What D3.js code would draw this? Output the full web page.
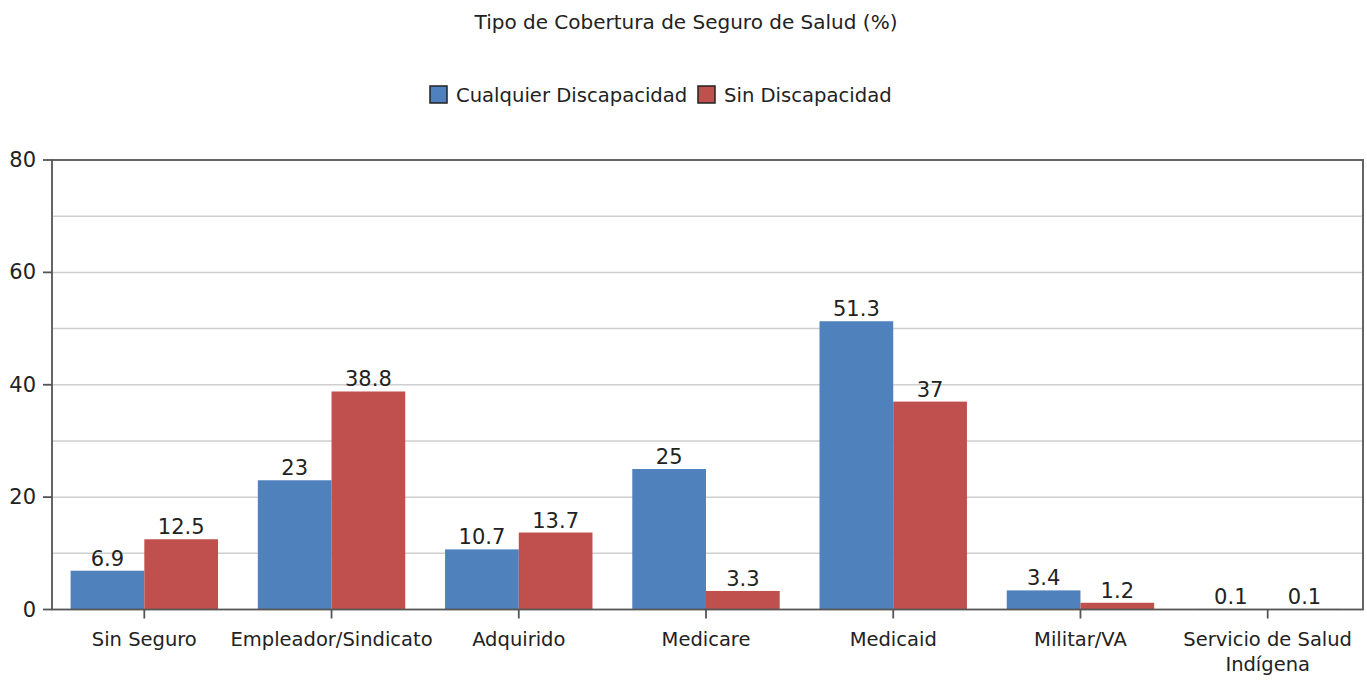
<!DOCTYPE html>
<html><head><meta charset="utf-8">
<script src="https://cdn.jsdelivr.net/npm/d3@7"></script>
<style>
html,body{margin:0;padding:0;background:#fff;}
svg text{font-family:"DejaVu Sans",sans-serif;fill:#222;}
</style></head>
<body>
<svg id="c" width="1367" height="683"></svg>
<script>
const categories = ["Sin Seguro","Empleador/Sindicato","Adquirido","Medicare","Medicaid","Militar/VA","Servicio de Salud\nIndígena"];
const seriesNames = ["Cualquier Discapacidad","Sin Discapacidad"];
const anyDisability = [6.9,23,10.7,25,51.3,3.4,0.1];
const noDisability = [12.5,38.8,13.7,3.3,37,1.2,0.1];
const yTicks = [0,20,40,60,80];
const gridTicks = [10,20,30,40,50,60,70];
const colors = ["#4f81bd","#c0504d"];
const title = "Tipo de Cobertura de Seguro de Salud (%)";

const svg = d3.select("#c");
const L = 52, R = 1363, T = 160, B = 609.5;
const x0 = d3.scaleBand().domain(categories).range([50.7, 1361.3]).paddingInner(0).paddingOuter(0);
const x1 = d3.scaleBand().domain(seriesNames).range([0, x0.bandwidth()]).paddingInner(0).paddingOuter(0.27);
const y = d3.scaleLinear().domain([0,80]).range([B, T]);

// gridlines
svg.append("g").selectAll("line").data(gridTicks).join("line")
  .attr("x1", L).attr("x2", R).attr("y1", d=>y(d)).attr("y2", d=>y(d))
  .attr("stroke","#cfcfcf").attr("stroke-width",1.5);

// bars
const data = categories.map((c,i)=>({cat:c, vals:[anyDisability[i], noDisability[i]]}));
const g = svg.append("g").selectAll("g").data(data).join("g")
  .attr("transform", d=>`translate(${x0(d.cat)},0)`);
g.selectAll("rect").data(d=>d.vals.map((v,j)=>({v, s:seriesNames[j], j}))).join("rect")
  .attr("x", d=>x1(d.s)).attr("width", x1.bandwidth())
  .attr("y", d=>y(d.v)).attr("height", d=>B - y(d.v))
  .attr("fill", d=>colors[d.j]);
g.selectAll("text").data(d=>d.vals.map((v,j)=>({v, s:seriesNames[j], j}))).join("text")
  .attr("x", d=>x1(d.s)+x1.bandwidth()/2).attr("y", d=>y(d.v)-5)
  .attr("text-anchor","middle").attr("font-size","21px").attr("fill","#111")
  .text(d=>d.v);

// frame
svg.append("rect").attr("x",L).attr("y",T).attr("width",R-L).attr("height",B-T)
  .attr("fill","none").attr("stroke","#555").attr("stroke-width",1.8);

// y axis ticks + labels
const ya = svg.append("g");
ya.selectAll("line").data(yTicks).join("line")
  .attr("x1",43).attr("x2",L).attr("y1",d=>y(d)).attr("y2",d=>y(d))
  .attr("stroke","#555").attr("stroke-width",1.8);
ya.selectAll("text").data(yTicks).join("text")
  .attr("x",36).attr("y",d=>y(d)+7).attr("text-anchor","end").attr("font-size","21px").attr("fill","#333")
  .text(d=>d);

// x axis ticks + labels
const xa = svg.append("g");
xa.selectAll("line").data(categories).join("line")
  .attr("x1",d=>x0(d)+x0.bandwidth()/2).attr("x2",d=>x0(d)+x0.bandwidth()/2)
  .attr("y1",B).attr("y2",B+9).attr("stroke","#555").attr("stroke-width",1.8);
xa.selectAll("text").data(categories).join("text")
  .attr("x",d=>x0(d)+x0.bandwidth()/2).attr("y",646)
  .attr("text-anchor","middle").attr("font-size","19.5px").attr("fill","#333")
  .each(function(d){
    const t = d3.select(this);
    d.split("\n").forEach((line,i)=>{
      t.append("tspan").attr("x", x0(d)+x0.bandwidth()/2).attr("dy", i===0?0:25).text(line);
    });
  });

// title
svg.append("text").attr("x",686).attr("y",29).attr("text-anchor","middle")
  .attr("font-size","20px").attr("fill","#111").text(title);

// legend
const leg = svg.append("g");
const legX = [430, 698], legTX = [456, 724];
seriesNames.forEach((s,i)=>{
  leg.append("rect").attr("x",legX[i]).attr("y",86).attr("width",17).attr("height",17)
    .attr("fill",colors[i]).attr("stroke","#222").attr("stroke-width",1.5);
  leg.append("text").attr("x",legTX[i]).attr("y",102).attr("font-size","19.6px").attr("fill","#111").text(s);
});
</script>
</body></html>
